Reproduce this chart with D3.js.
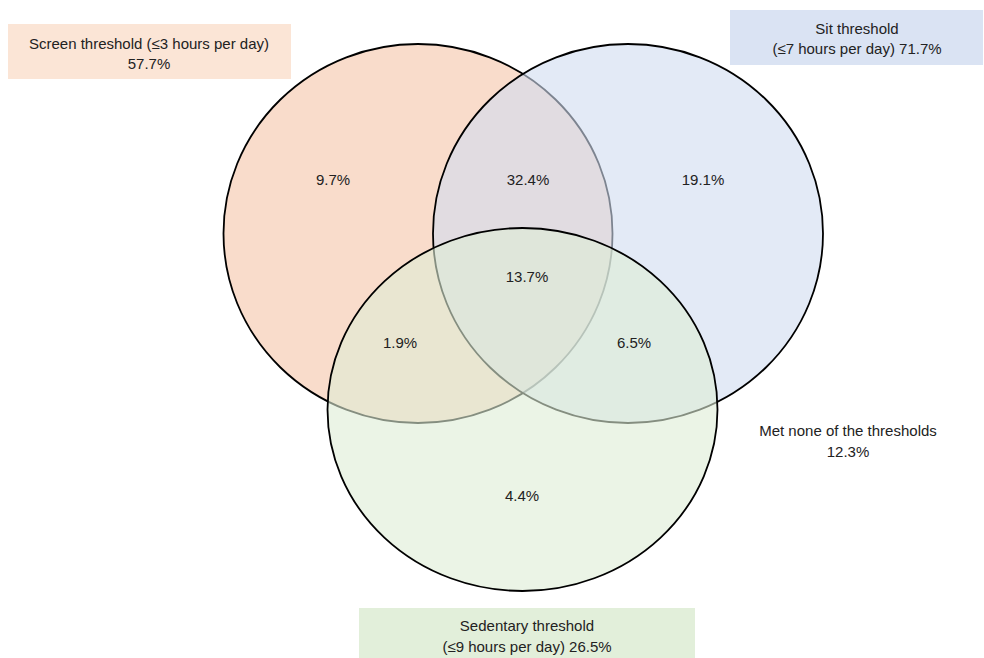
<!DOCTYPE html>
<html>
<head>
<meta charset="utf-8">
<script src="https://cdn.jsdelivr.net/npm/d3@7/dist/d3.min.js"></script>
<style>
  html, body { margin: 0; padding: 0; background: #fff; }
  svg { display: block; }
  text { font-family: "Liberation Sans", Arial, sans-serif; fill: #222; }
</style>
</head>
<body>
<svg id="chart" width="984" height="658"></svg>
<script>
// Sets (sedentary-behaviour thresholds) and their overall share
const setNames = ["Screen threshold", "Sit threshold", "Sedentary threshold"];
const setCriteria = ["(≤3 hours per day)", "(≤7 hours per day)", "(≤9 hours per day)"];
const setTotals = [57.7, 71.7, 26.5];

// Share of participants in each exclusive region
const regionKeys = ["S", "T", "D", "ST", "SD", "TD", "STD"];
const regionValues = [9.7, 19.1, 4.4, 32.4, 1.9, 6.5, 13.7];

const noneLabel = "Met none of the thresholds";
const noneValue = 12.3;

// ---- layout ----
const svg = d3.select("#chart");
const fmt = v => d3.format(".1f")(v) + "%";
const FS = 15;

// ellipse geometry for each set (pixel layout)
const shapes = [
  { cx: 418, cy: 233.5, rx: 194.5, ry: 189.5, fill: "#f5c5a8" },
  { cx: 628, cy: 233.5, rx: 195,   ry: 189.5, fill: "#d0dcf0" },
  { cx: 522.5, cy: 409.5, rx: 195, ry: 181.5, fill: "#deedd5" }
];

svg.selectAll("ellipse.set")
  .data(shapes)
  .join("ellipse")
  .attr("class", "set")
  .attr("cx", d => d.cx)
  .attr("cy", d => d.cy)
  .attr("rx", d => d.rx)
  .attr("ry", d => d.ry)
  .attr("fill", d => d.fill)
  .attr("fill-opacity", 0.6)
  .attr("stroke", "#000")
  .attr("stroke-width", 1.8);

// region label anchor points (text baselines)
const regionPos = {
  S:   [333, 185],
  T:   [703, 185],
  D:   [522, 501],
  ST:  [528, 185],
  SD:  [400, 348],
  TD:  [634, 348],
  STD: [527, 282]
};

svg.selectAll("text.region")
  .data(regionKeys.map((k, i) => ({ k, v: regionValues[i] })))
  .join("text")
  .attr("class", "region")
  .attr("x", d => regionPos[d.k][0])
  .attr("y", d => regionPos[d.k][1])
  .attr("text-anchor", "middle")
  .attr("font-size", FS)
  .text(d => fmt(d.v));

// set title boxes
const boxes = [
  { x: 8,   y: 24,  w: 283, h: 55, fill: "#fbe5d6",
    lines: [setNames[0] + " " + setCriteria[0], fmt(setTotals[0])], cx: 149, y0: 48.5 },
  { x: 730, y: 10,  w: 253, h: 55, fill: "#dae3f3",
    lines: [setNames[1], setCriteria[1] + " " + fmt(setTotals[1])], cx: 857, y0: 33.5 },
  { x: 359, y: 608, w: 336, h: 50, fill: "#e2efda",
    lines: [setNames[2], setCriteria[2] + " " + fmt(setTotals[2])], cx: 527, y0: 631 }
];

const bg = svg.selectAll("g.box").data(boxes).join("g").attr("class", "box");
bg.append("rect")
  .attr("x", d => d.x).attr("y", d => d.y)
  .attr("width", d => d.w).attr("height", d => d.h)
  .attr("fill", d => d.fill);
bg.each(function(d) {
  d3.select(this).selectAll("text")
    .data(d.lines)
    .join("text")
    .attr("x", d.cx)
    .attr("y", (t, i) => d.y0 + i * 20.5)
    .attr("text-anchor", "middle")
    .attr("font-size", FS)
    .text(t => t);
});

// outside-all-sets label
svg.selectAll("text.none")
  .data([noneLabel, fmt(noneValue)])
  .join("text")
  .attr("class", "none")
  .attr("x", 848)
  .attr("y", (t, i) => 436 + i * 20.5)
  .attr("text-anchor", "middle")
  .attr("font-size", FS)
  .text(t => t);
</script>
</body>
</html>
